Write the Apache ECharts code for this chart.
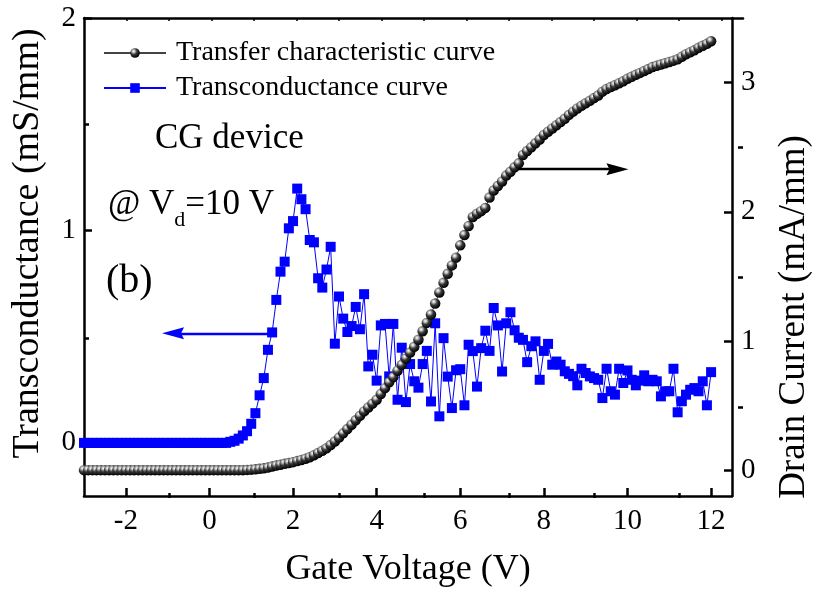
<!DOCTYPE html>
<html>
<head>
<meta charset="utf-8">
<script src="https://cdn.jsdelivr.net/npm/echarts@6/dist/echarts.min.js"></script>
<style>
  html, body { margin: 0; padding: 0; background: #ffffff; }
  #chart { width: 821px; height: 593px; }
</style>
</head>
<body>
<div id="chart"></div>
<script>
// Gate voltage sweep (V)
const gateVoltage = [
  -3, -2.9, -2.8, -2.7, -2.6, -2.5, -2.4, -2.3, -2.2, -2.1,
  -2, -1.9, -1.8, -1.7, -1.6, -1.5, -1.4, -1.3, -1.2, -1.1,
  -1, -0.9, -0.8, -0.7, -0.6, -0.5, -0.4, -0.3, -0.2, -0.1,
  0, 0.1, 0.2, 0.3, 0.4, 0.5, 0.6, 0.7, 0.8, 0.9,
  1, 1.1, 1.2, 1.3, 1.4, 1.5, 1.6, 1.7, 1.8, 1.9,
  2, 2.1, 2.2, 2.3, 2.4, 2.5, 2.6, 2.7, 2.8, 2.9,
  3, 3.1, 3.2, 3.3, 3.4, 3.5, 3.6, 3.7, 3.8, 3.9,
  4, 4.1, 4.2, 4.3, 4.4, 4.5, 4.6, 4.7, 4.8, 4.9,
  5, 5.1, 5.2, 5.3, 5.4, 5.5, 5.6, 5.7, 5.8, 5.9,
  6, 6.1, 6.2, 6.3, 6.4, 6.5, 6.6, 6.7, 6.8, 6.9,
  7, 7.1, 7.2, 7.3, 7.4, 7.5, 7.6, 7.7, 7.8, 7.9,
  8, 8.1, 8.2, 8.3, 8.4, 8.5, 8.6, 8.7, 8.8, 8.9,
  9, 9.1, 9.2, 9.3, 9.4, 9.5, 9.6, 9.7, 9.8, 9.9,
  10, 10.1, 10.2, 10.3, 10.4, 10.5, 10.6, 10.7, 10.8, 10.9,
  11, 11.1, 11.2, 11.3, 11.4, 11.5, 11.6, 11.7, 11.8, 11.9,
  12
];

// Drain current (mA/mm), right axis
const drainCurrent = [
  0, 0, 0, 0, 0, 0, 0, 0, 0, 0,
  0, 0, 0, 0, 0, 0, 0, 0, 0, 0,
  0, 0, 0, 0, 0, 0, 0, 0, 0, 0,
  0, 0, 0, 0, 0, 0, 0, 0, 0, 0.002,
  0.004, 0.007, 0.010, 0.014, 0.02, 0.028, 0.036, 0.042, 0.049, 0.055,
  0.062, 0.07, 0.079, 0.089, 0.10, 0.116, 0.133, 0.15, 0.17, 0.195,
  0.222, 0.252, 0.285, 0.318, 0.352, 0.386, 0.42, 0.455, 0.485, 0.515,
  0.545, 0.59, 0.635, 0.68, 0.72, 0.77, 0.815, 0.865, 0.91, 0.955,
  1.01, 1.075, 1.14, 1.205, 1.29, 1.375, 1.45, 1.52, 1.585, 1.645,
  1.74, 1.82, 1.89, 1.96, 1.985, 2.005, 2.03, 2.11, 2.165, 2.2,
  2.235, 2.28, 2.31, 2.345, 2.375, 2.44, 2.47, 2.5, 2.53, 2.56,
  2.595, 2.62, 2.645, 2.67, 2.695, 2.72, 2.75, 2.775, 2.8, 2.82,
  2.84, 2.86, 2.88, 2.9, 2.93, 2.95, 2.965, 2.98, 2.995, 3.01,
  3.03, 3.045, 3.06, 3.075, 3.09, 3.105, 3.12, 3.13, 3.14, 3.15,
  3.16, 3.17, 3.18, 3.2, 3.22, 3.235, 3.25, 3.27, 3.285, 3.3,
  3.32
];

// Transconductance (mS/mm), left axis
const transconductance = [
  0, 0, 0, 0, 0, 0, 0, 0, 0, 0,
  0, 0, 0, 0, 0, 0, 0, 0, 0, 0,
  0, 0, 0, 0, 0, 0, 0, 0, 0, 0,
  0, 0, 0, 0, 0, 0.005, 0.01, 0.02, 0.035, 0.055,
  0.09, 0.14, 0.224, 0.305, 0.438, 0.52, 0.673, 0.806, 0.853, 1.01,
  1.044, 1.197, 1.147, 1.10, 0.955, 0.944, 0.775, 0.731, 0.816, 0.923,
  0.467, 0.689, 0.585, 0.522, 0.55, 0.64, 0.535, 0.70, 0.36, 0.415,
  0.293, 0.553, 0.56, 0.313, 0.56, 0.203, 0.448, 0.192, 0.371, 0.29,
  0.26, 0.371, 0.433, 0.195, 0.563, 0.125, 0.493, 0.312, 0.164, 0.342,
  0.347, 0.177, 0.462, 0.432, 0.265, 0.446, 0.528, 0.433, 0.635, 0.553,
  0.336, 0.563, 0.615, 0.53, 0.495, 0.485, 0.38, 0.455, 0.478, 0.297,
  0.433, 0.466, 0.368, 0.383, 0.368, 0.337, 0.325, 0.314, 0.271, 0.349,
  0.329, 0.313, 0.305, 0.297, 0.211, 0.349, 0.243, 0.227, 0.349, 0.282,
  0.341, 0.297, 0.271, 0.293, 0.318, 0.29, 0.297, 0.29, 0.219, 0.243,
  0.243, 0.349, 0.144, 0.196, 0.227, 0.25, 0.258, 0.243, 0.29, 0.177,
  0.333
];

// Tick positions
const xMajorTicks = [-2, 0, 2, 4, 6, 8, 10, 12];
const xMinorTicks = [-1, 1, 3, 5, 7, 9, 11];
const xTopTicks = [-2, -1, 0, 1, 2, 3, 4, 5, 6, 7, 8, 9, 10, 11, 12];
const gmMajorTicks = [0, 1, 2];
const gmMinorTicks = [0.5, 1.5];
const idMajorTicks = [0, 1, 2, 3];
const idMinorTicks = [0.5, 1.5, 2.5];

// Arrows pointing each curve to its axis: [start, end] in data units
const gmArrow = [[1.49, 0.516], [-0.87, 0.516]];
const idArrow = [[7.38, 2.33], [9.76, 2.33]];

const seriesNames = ['Transfer characteristic curve', 'Transconductance curve'];

const FONT = "'Liberation Serif', 'Times New Roman', Times, serif";
const frameLine = { show: true, onZero: false, lineStyle: { color: '#000', width: 2.5 } };
const hiddenLine = { show: false, onZero: false };
const gridBox = { left: 84, top: 18, right: 78, bottom: 95 };

// Shaded ball used for the transfer-curve markers
const sphere = {
  type: 'radial', x: 0.36, y: 0.32, r: 0.68,
  colorStops: [
    { offset: 0, color: '#ffffff' },
    { offset: 0.18, color: '#c8c8c8' },
    { offset: 0.5, color: '#3a3a3a' },
    { offset: 1, color: '#000000' }
  ]
};

// Solid arrow head, tip at the top of its box
const arrowHead = 'path://M6,0 L12,22 L6,19 L0,22 Z';

const chart = echarts.init(document.getElementById('chart'), null, { renderer: 'canvas' });

chart.setOption({
  animation: false,
  backgroundColor: '#ffffff',
  grid: [
    Object.assign({}, gridBox),
    Object.assign({}, gridBox)
  ],
  legend: {
    data: seriesNames,
    orient: 'vertical',
    left: 103,
    top: 39,
    padding: 0,
    itemWidth: 62,
    itemHeight: 12,
    itemGap: 7,
    selectedMode: false,
    textStyle: { fontSize: 28, fontFamily: FONT, color: '#000', lineHeight: 28, padding: [0, 0, 0, 5] }
  },
  xAxis: [
    {
      gridIndex: 0, type: 'value', position: 'bottom', min: -3, max: 12.5,
      axisLine: frameLine,
      splitLine: { show: false },
      axisTick: { inside: true, length: 8, lineStyle: { color: '#000', width: 2.5 }, customValues: xMajorTicks },
      axisLabel: { customValues: xMajorTicks, fontSize: 29, fontFamily: FONT, color: '#000', margin: 11 },
      name: 'Gate Voltage (V)', nameLocation: 'middle', nameGap: 56,
      nameTextStyle: { fontSize: 36, fontFamily: FONT, color: '#000' }
    },
    {
      gridIndex: 1, type: 'value', position: 'bottom', min: -3, max: 12.5,
      axisLine: hiddenLine,
      splitLine: { show: false },
      axisTick: { inside: true, length: 5, lineStyle: { color: '#000', width: 2.5 }, customValues: xMinorTicks },
      axisLabel: { show: false }
    },
    {
      gridIndex: 1, type: 'value', position: 'top', min: -3, max: 12.5,
      axisLine: frameLine,
      splitLine: { show: false },
      axisTick: { inside: true, length: 3, lineStyle: { color: '#000', width: 1.5 }, customValues: xTopTicks },
      axisLabel: { show: false }
    }
  ],
  yAxis: [
    {
      gridIndex: 0, type: 'value', position: 'left', min: -0.25, max: 2,
      axisLine: frameLine,
      splitLine: { show: false },
      axisTick: { inside: true, length: 8, lineStyle: { color: '#000', width: 2.5 }, customValues: gmMajorTicks },
      axisLabel: { customValues: gmMajorTicks, fontSize: 29, fontFamily: FONT, color: '#000', margin: 8 },
      name: 'Transconductance (mS/mm)', nameLocation: 'middle', nameGap: 37,
      nameTextStyle: { fontSize: 38, fontFamily: FONT, color: '#000', padding: [0, 0, 0, 27] }
    },
    {
      gridIndex: 0, type: 'value', position: 'right', min: -0.2, max: 3.5,
      axisLine: frameLine,
      splitLine: { show: false },
      axisTick: { inside: true, length: 8, lineStyle: { color: '#000', width: 2.5 }, customValues: idMajorTicks },
      axisLabel: { customValues: idMajorTicks, fontSize: 29, fontFamily: FONT, color: '#000', margin: 9 },
      name: 'Drain Current (mA/mm)', nameLocation: 'middle', nameGap: 44,
      nameTextStyle: { fontSize: 37, fontFamily: FONT, color: '#000', padding: [0, 120, 0, 0] }
    },
    {
      gridIndex: 1, type: 'value', position: 'left', min: -0.25, max: 2,
      axisLine: hiddenLine,
      splitLine: { show: false },
      axisTick: { inside: true, length: 5, lineStyle: { color: '#000', width: 2.5 }, customValues: gmMinorTicks },
      axisLabel: { show: false }
    },
    {
      gridIndex: 1, type: 'value', position: 'right', min: -0.2, max: 3.5,
      axisLine: hiddenLine,
      splitLine: { show: false },
      axisTick: { inside: true, length: 5, lineStyle: { color: '#000', width: 2.5 }, customValues: idMinorTicks },
      axisLabel: { show: false }
    }
  ],
  series: [
    {
      name: seriesNames[1],
      type: 'line',
      xAxisIndex: 0,
      yAxisIndex: 0,
      data: gateVoltage.map((v, i) => [v, transconductance[i]]),
      symbol: 'rect',
      symbolSize: 10,
      showAllSymbol: true,
      itemStyle: { color: '#0000ff' },
      lineStyle: { color: '#0000ff', width: 1 },
      z: 2,
      markLine: {
        silent: true,
        animation: false,
        symbol: ['none', arrowHead],
        symbolSize: [12, 22],
        label: { show: false },
        lineStyle: { color: '#0000ff', width: 2.4, type: 'solid' },
        emphasis: { disabled: true },
        data: [[{ coord: gmArrow[0] }, { coord: gmArrow[1] }]]
      }
    },
    {
      name: seriesNames[0],
      type: 'line',
      xAxisIndex: 0,
      yAxisIndex: 1,
      data: gateVoltage.map((v, i) => [v, drainCurrent[i]]),
      symbol: 'circle',
      symbolSize: 10.5,
      showAllSymbol: true,
      itemStyle: { color: sphere },
      lineStyle: { color: '#444', width: 1 },
      z: 3,
      markLine: {
        silent: true,
        animation: false,
        symbol: ['none', arrowHead],
        symbolSize: [12, 22],
        label: { show: false },
        lineStyle: { color: '#000', width: 2.4, type: 'solid' },
        emphasis: { disabled: true },
        data: [[{ coord: idArrow[0] }, { coord: idArrow[1] }]]
      }
    }
  ],
  graphic: [
    {
      type: 'text', x: 155, y: 139, silent: true,
      style: { text: 'CG device', fontSize: 35, fontFamily: FONT, fill: '#000', verticalAlign: 'middle' }
    },
    {
      type: 'text', x: 108, y: 205, silent: true,
      style: {
        text: '{a|@ V}{s|d}{a|=10 V}',
        verticalAlign: 'middle',
        rich: {
          a: { fontSize: 35, fontFamily: FONT, fill: '#000', color: '#000' },
          s: { fontSize: 22, fontFamily: FONT, fill: '#000', color: '#000', padding: [30, 0, 0, 0] }
        }
      }
    },
    {
      type: 'text', x: 106, y: 281, silent: true,
      style: { text: '(b)', fontSize: 40, fontFamily: FONT, fill: '#000', verticalAlign: 'middle' }
    }
  ]
});
</script>
</body>
</html>
